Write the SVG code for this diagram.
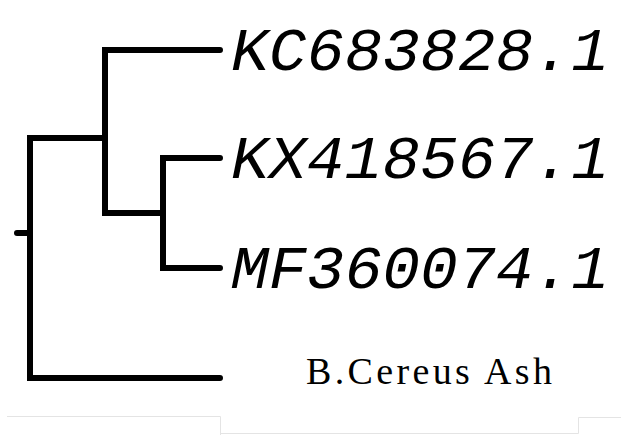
<svg xmlns="http://www.w3.org/2000/svg" width="621" height="435" viewBox="0 0 621 435">
<style>
.br{fill:none;stroke:#000;stroke-width:6;stroke-linecap:round;stroke-linejoin:miter}
.acc{font-family:"Liberation Mono","Courier New",monospace;font-style:italic;font-size:62px;fill:#000}
.bc{font-family:"Liberation Serif","Times New Roman",serif;font-size:38px;fill:#000}
.frame{fill:none;stroke:#e4e4e4;stroke-width:1}
</style>
<rect width="621" height="435" fill="#fff"/>
<g id="connectors">
<path class="br" d="M17 233 H30"/>
<path class="br" d="M105 138 H30 V378 H220"/>
<path class="br" d="M220 50 H105 V213 H163"/>
<path class="br" d="M220 158 H163 V268 H220"/>
</g>
<g id="KC683828"><text class="acc" x="231" y="70" textLength="378" lengthAdjust="spacingAndGlyphs">KC683828.1</text></g>
<g id="KX418567"><text class="acc" x="231" y="178" textLength="378" lengthAdjust="spacingAndGlyphs">KX418567.1</text></g>
<g id="MF360074"><text class="acc" x="231" y="288" textLength="378" lengthAdjust="spacingAndGlyphs">MF360074.1</text></g>
<g id="BCereus"><text class="bc" x="306" y="384" textLength="246" lengthAdjust="spacing">B.Cereus Ash</text></g>
<path class="frame" d="M7 416.5 H220.5 V435 M220.5 433.5 H578.5 V417.5 H621"/>
</svg>
